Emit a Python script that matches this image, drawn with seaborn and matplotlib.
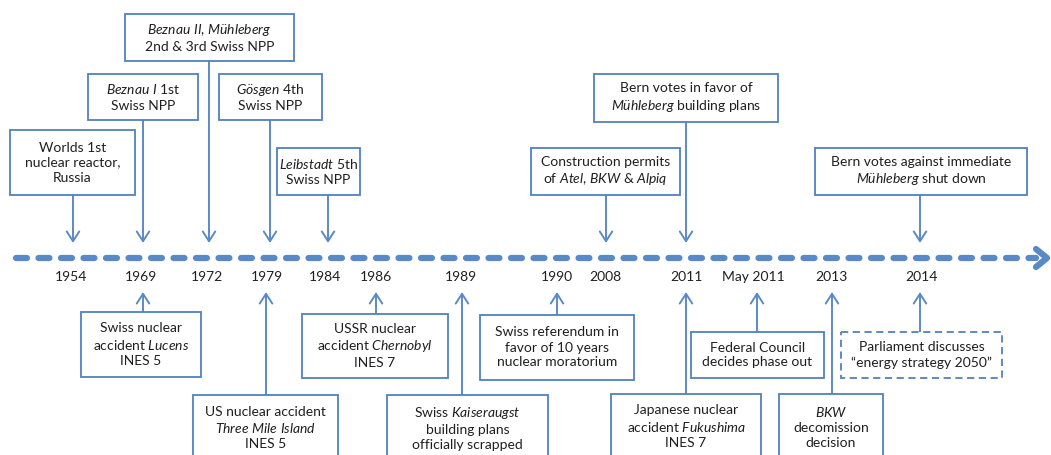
import matplotlib
matplotlib.use("Agg")
import matplotlib.pyplot as plt
import seaborn as sns
from matplotlib.patches import Rectangle, FancyArrowPatch

sns.set_theme(style="white")
plt.rcParams['font.family'] = ['Lato', 'DejaVu Sans']
plt.rcParams['mathtext.fontset'] = 'custom'
plt.rcParams['mathtext.rm'] = 'Lato'
plt.rcParams['mathtext.it'] = 'Lato:italic'

# ---- data ----
years = ["1954", "1969", "1972", "1979", "1984", "1986", "1989", "1990",
         "2008", "2011", "May 2011", "2013", "2014"]

top_texts = [
    "Worlds 1st\nnuclear reactor,\nRussia",
    "$\\mathit{Beznau\\ I}$ 1st\nSwiss NPP",
    "$\\mathit{Beznau\\ II}$, $\\mathit{Mühleberg}$\n2nd & 3rd Swiss NPP",
    "$\\mathit{Gösgen}$ 4th\nSwiss NPP",
    "$\\mathit{Leibstadt}$ 5th\nSwiss NPP",
    "Construction permits\nof $\\mathit{Atel}$, $\\mathit{BKW}$ & $\\mathit{Alpiq}$",
    "Bern votes in favor of\n$\\mathit{Mühleberg}$ building plans",
    "Bern votes against immediate\n$\\mathit{Mühleberg}$ shut down",
]
top_years = ["1954", "1969", "1972", "1979", "1984", "2008", "2011", "2014"]

bottom_texts = [
    "Swiss nuclear\naccident $\\mathit{Lucens}$\nINES 5",
    "US nuclear accident\n$\\mathit{Three\\ Mile\\ Island}$\nINES 5",
    "USSR nuclear\naccident $\\mathit{Chernobyl}$\nINES 7",
    "Swiss $\\mathit{Kaiseraugst}$\nbuilding plans\nofficially scrapped",
    "Swiss referendum in\nfavor of 10 years\nnuclear moratorium",
    "Japanese nuclear\naccident $\\mathit{Fukushima}$\nINES 7",
    "Federal Council\ndecides phase out",
    "$\\mathit{BKW}$\ndecomission\ndecision",
    "Parliament discusses\n\u201cenergy strategy 2050\u201d",
]
bottom_years = ["1969", "1979", "1986", "1989", "1990", "2011", "May 2011", "2013", "2014"]

# ---- layout (pixel space) ----
year_x = [71, 141, 207, 267, 325, 376, 461, 557, 605, 686, 753, 831, 921]
top_arrow_x = [73, 143, 209, 270, 328, 606, 686, 920]
top_box = [(10, 135, 130, 195), (88, 198, 74, 120), (125, 294, 14, 61),
           (219, 322, 74, 120), (277, 360, 148, 195), (531, 680, 148, 195),
           (594, 778, 74, 122), (815, 1027, 148, 195)]
bot_arrow_x = [143, 266, 376, 462, 557, 686, 757, 832, 920]
bot_box = [(81, 201, 312, 377), (193, 338, 395, 480), (302, 448, 314, 378),
           (387, 548, 395, 480), (480, 634, 315, 380), (611, 761, 394, 480),
           (691, 824, 332, 378), (779, 883, 394, 480), (841, 1002, 332, 378)]
bot_dashed = [False] * 8 + [True]

W, H = 1051, 455
BLUE = "#4F81BD"
LINE_BLUE = "#5A8AC6"
TXT = "#1f1f1f"
TIMELINE_Y = 258
FS = 10

fig = plt.figure(figsize=(W / 100, H / 100), dpi=100)
ax = fig.add_axes([0, 0, 1, 1])
ax.set_xlim(0, W)
ax.set_ylim(H, 0)
ax.axis("off")

# timeline
sns.lineplot(x=[16, 1036], y=[TIMELINE_Y, TIMELINE_Y], ax=ax, color=LINE_BLUE,
             lw=4.5, dashes=False, linestyle=(0, (1.75, 1.85)),
             solid_capstyle="round", dash_capstyle="round", legend=False)
ax.plot([1036, 1047, 1036], [TIMELINE_Y - 9, TIMELINE_Y, TIMELINE_Y + 9],
        color=LINE_BLUE, lw=4.5, solid_capstyle="round", solid_joinstyle="round")

# year labels
for yl, x in zip(years, year_x):
    ax.text(x, 277, yl, ha="center", va="center", fontsize=FS, color=TXT)


def draw_box(b, text, dashed=False):
    x0, x1, y0, y1 = b
    ax.add_patch(Rectangle((x0, y0), x1 - x0, y1 - y0, fill=True, facecolor="white",
                           edgecolor=BLUE, lw=1.3,
                           linestyle=(0, (4, 2.5)) if dashed else "solid"))
    nlines = text.count("\n") + 1
    cy = (y0 + y1) / 2 if y1 <= H else y0 + 15 + 8.9 * (nlines - 1)
    ax.text((x0 + x1) / 2, cy, text, ha="center", va="center", fontsize=FS,
            color=TXT, linespacing=1.3)


def arrow(x, ys, ye):
    ax.add_patch(FancyArrowPatch((x, ys), (x, ye), arrowstyle="->,head_length=0.7,head_width=0.45",
                                 mutation_scale=10, color=LINE_BLUE, lw=1.4,
                                 shrinkA=0, shrinkB=0))


for t, b, x in zip(top_texts, top_box, top_arrow_x):
    arrow(x, b[3], 243)
    draw_box(b, t)

for t, b, x, d in zip(bottom_texts, bot_box, bot_arrow_x, bot_dashed):
    arrow(x, b[2], 292)
    draw_box(b, t, d)

fig.savefig("out.png", dpi=100)
